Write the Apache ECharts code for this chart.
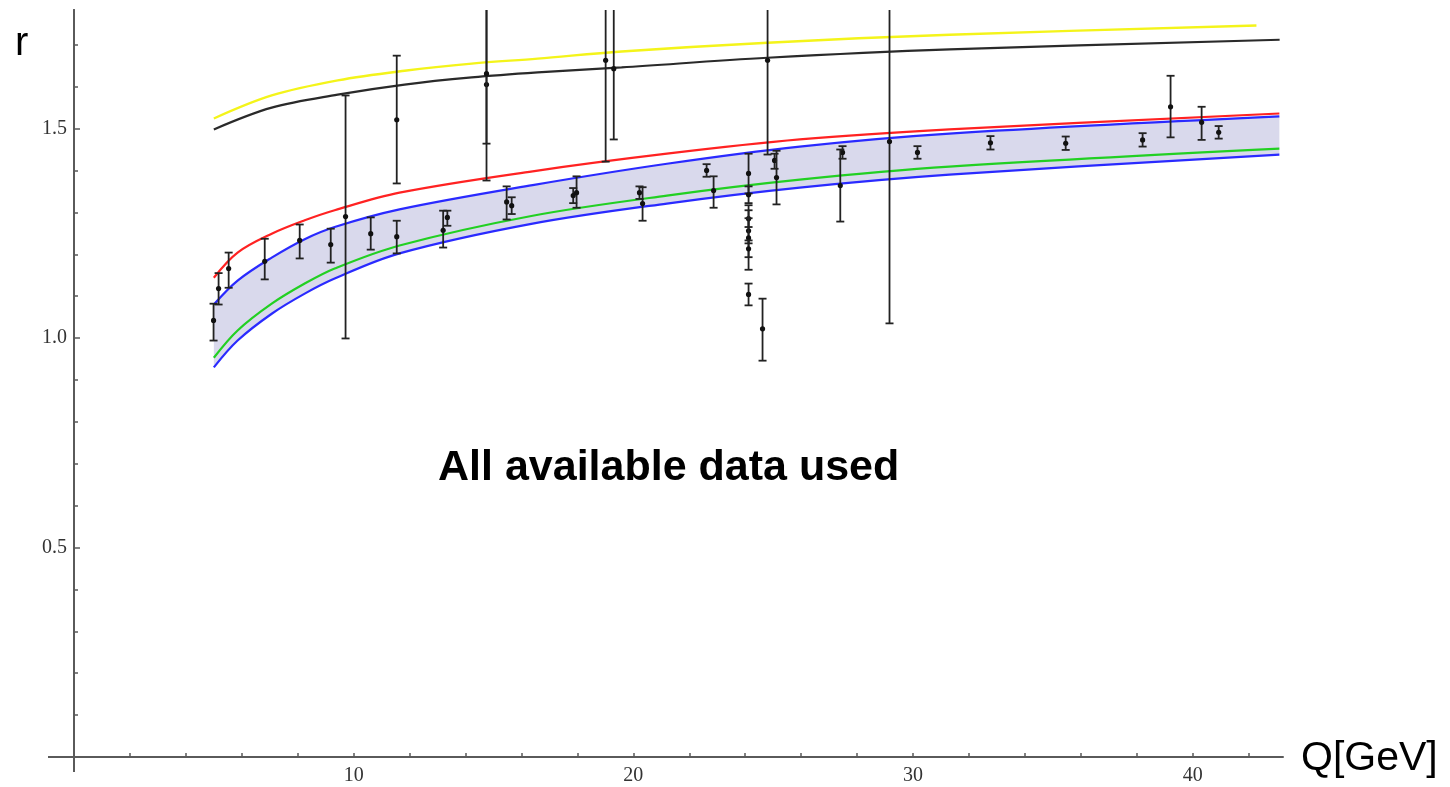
<!DOCTYPE html>
<html>
<head>
<meta charset="utf-8">
<title>r vs Q</title>
<script src="https://cdn.jsdelivr.net/npm/echarts@6.0.0/dist/echarts.min.js"></script>
<style>
    html, body { margin: 0; padding: 0; background: #fff; }
    #main { width: 1450px; height: 787px; }
</style>
</head>
<body>
<div id="main"></div>
<script>
// ticks
var xTicks = [2, 4, 6, 8, 10, 12, 14, 16, 18, 20, 22, 24, 26, 28, 30, 32, 34, 36, 38, 40, 42];
var xLabels = [10, 20, 30, 40];
var yMinorTicks = [0.1, 0.2, 0.3, 0.4, 0.6, 0.7, 0.8, 0.9, 1.1, 1.2, 1.3, 1.4, 1.6, 1.7];
var yLabels = [0.5, 1.0, 1.5];

// band curves (red, blue upper, green, blue lower)
var bandQ = [5.0, 5.85, 7.07, 8.25, 9.32, 11.64, 16.4, 21.2, 25.95, 31.3, 43.1];
var redCurve = [1.144, 1.204, 1.249, 1.281, 1.305, 1.347, 1.398, 1.440, 1.474, 1.498, 1.536];
var blueHigh = [1.080, 1.137, 1.192, 1.236, 1.265, 1.307, 1.365, 1.416, 1.457, 1.488, 1.529];
var greenCurve = [0.953, 1.018, 1.082, 1.130, 1.166, 1.221, 1.292, 1.340, 1.378, 1.409, 1.452];
var blueLow = [0.930, 0.994, 1.058, 1.106, 1.142, 1.202, 1.273, 1.321, 1.359, 1.390, 1.438];

// upper curves
var blackQ = [5.0, 7.07, 9.43, 11.82, 14.22, 16.58, 19.58, 24.8, 31.31, 43.11];
var blackCurve = [1.498, 1.550, 1.581, 1.605, 1.622, 1.634, 1.646, 1.669, 1.689, 1.712];
var yellowQ = [5.0, 7.07, 9.43, 11.82, 14.22, 16.58, 19.58, 24.8, 31.31, 42.28];
var yellowCurve = [1.524, 1.579, 1.615, 1.638, 1.655, 1.667, 1.684, 1.705, 1.724, 1.746];

// data points: Q, r, lower end, upper end of error bar
var ptQ = [4.99, 5.17, 5.53, 6.82, 8.07, 9.18, 9.71, 10.61, 11.54, 11.54,
    13.2, 13.35, 14.75, 14.75, 15.47, 15.65, 17.97, 17.85, 19.01, 19.30,
    20.22, 20.33, 22.62, 22.87, 24.12, 24.12, 24.12, 24.12, 24.12, 24.12,
    24.12, 24.62, 24.80, 25.05, 25.12, 27.48, 27.40, 29.16, 30.16, 32.77,
    35.46, 38.21, 39.21, 40.32, 40.93];
var ptR = [1.042, 1.118, 1.166, 1.183, 1.233, 1.223, 1.290, 1.249, 1.521, 1.242,
    1.257, 1.288, 1.605, 1.631, 1.325, 1.316, 1.347, 1.340, 1.663, 1.643,
    1.347, 1.321, 1.400, 1.352, 1.393, 1.342, 1.285, 1.256, 1.239, 1.213,
    1.104, 1.022, 1.663, 1.424, 1.383, 1.443, 1.364, 1.469, 1.443, 1.466,
    1.465, 1.473, 1.552, 1.515, 1.491];
var ptLo = [0.994, 1.080, 1.120, 1.140, 1.190, 1.180, 0.999, 1.211, 1.369, 1.202,
    1.216, 1.268, 1.376, 1.464, 1.283, 1.296, 1.311, 1.322, 1.421, 1.474,
    1.332, 1.280, 1.385, 1.311, 1.345, 1.322, 1.265, 1.226, 1.163, 1.193,
    1.078, 0.946, 1.438, 1.404, 1.319, 1.428, 1.278, 1.035, 1.428, 1.450,
    1.449, 1.457, 1.479, 1.473, 1.476];
var ptHi = [1.082, 1.155, 1.204, 1.237, 1.271, 1.261, 1.579, 1.288, 1.674, 1.280,
    1.304, 1.304, 1.834, 1.798, 1.362, 1.336, 1.386, 1.358, 1.905, 1.812,
    1.362, 1.360, 1.415, 1.386, 1.440, 1.362, 1.305, 1.286, 1.317, 1.233,
    1.130, 1.094, 1.888, 1.440, 1.447, 1.458, 1.450, 1.903, 1.458, 1.482,
    1.481, 1.489, 1.626, 1.552, 1.506];

var SMOOTH = 0.35;

function zip(xs, ys) {
    var out = [];
    for (var i = 0; i < xs.length; i++) out.push([xs[i], ys[i]]);
    return out;
}

// value first, Q second: the stack then runs on r, not on Q
var bandBase = [];
var bandWidth = [];
for (var i = 0; i < bandQ.length; i++) {
    bandBase.push([blueLow[i], bandQ[i]]);
    bandWidth.push([+(blueHigh[i] - blueLow[i]).toFixed(3), bandQ[i]]);
}

var points = [];
for (var j = 0; j < ptQ.length; j++) {
    points.push([ptQ[j], ptR[j], ptLo[j], ptHi[j]]);
}

function renderErrorBar(params, api) {
    var q = api.value(0);
    var mid = api.coord([q, api.value(1)]);
    var lo = api.coord([q, api.value(2)]);
    var hi = api.coord([q, api.value(3)]);
    var cap = 4;
    var st = { stroke: '#222', lineWidth: 1.8 };
    return {
        type: 'group',
        children: [
            { type: 'line', shape: { x1: lo[0], y1: lo[1], x2: hi[0], y2: hi[1] }, style: st },
            { type: 'line', shape: { x1: lo[0] - cap, y1: lo[1], x2: lo[0] + cap, y2: lo[1] }, style: st },
            { type: 'line', shape: { x1: hi[0] - cap, y1: hi[1], x2: hi[0] + cap, y2: hi[1] }, style: st },
            { type: 'circle', shape: { cx: mid[0], cy: mid[1], r: 2.6 }, style: { fill: '#111' } }
        ]
    };
}

function curve(name, xs, ys, color, width) {
    return {
        name: name, type: 'line', smooth: SMOOTH, symbol: 'none', z: 3,
        data: zip(xs, ys),
        lineStyle: { color: color, width: width }
    };
}

var axisGray = '#5a5a5a';
var tickFont = { fontFamily: 'Liberation Serif', fontSize: 20, color: '#333' };
var gridLeft = 74, gridTop = 10, gridRight = 1283, gridBottom = 757;

var chart = echarts.init(document.getElementById('main'));
chart.setOption({
    animation: false,
    backgroundColor: '#fff',
    grid: { left: gridLeft, right: 1450 - gridRight, top: gridTop, bottom: 787 - gridBottom, containLabel: false, outerBoundsMode: 'none' },
    xAxis: {
        type: 'value',
        min: 0,
        max: 43.23,
        splitLine: { show: false },
        axisLine: { onZero: false, lineStyle: { color: axisGray, width: 2 } },
        axisTick: { inside: true, length: 4, customValues: xTicks, lineStyle: { color: axisGray, width: 1.5 } },
        axisLabel: Object.assign({ customValues: xLabels, margin: 9 }, tickFont)
    },
    yAxis: [{
        type: 'value',
        min: 0,
        max: 1.783,
        splitLine: { show: false },
        axisLine: { onZero: false, lineStyle: { color: axisGray, width: 2 } },
        axisTick: { inside: true, length: 4, customValues: yMinorTicks, lineStyle: { color: axisGray, width: 1.5 } },
        axisLabel: { show: false }
    }, {
        type: 'value',
        min: 0,
        max: 1.783,
        position: 'left',
        offset: 0,
        splitLine: { show: false },
        axisLine: { onZero: false, lineStyle: { color: axisGray, width: 2 } },
        axisTick: { inside: true, length: 6, customValues: yLabels, lineStyle: { color: axisGray, width: 1.5 } },
        axisLabel: Object.assign({
            customValues: yLabels,
            margin: 7,
            formatter: function (v) { return v.toFixed(1); }
        }, tickFont)
    }],
    series: [
        // shaded band between the two blue curves
        {
            name: 'bandBase', type: 'line', stack: 'band', smooth: SMOOTH,
            symbol: 'none', z: 1,
            encode: { x: 1, y: 0 },
            data: bandBase,
            lineStyle: { width: 0, opacity: 0 }
        },
        {
            name: 'bandFill', type: 'line', stack: 'band', smooth: SMOOTH,
            symbol: 'none', z: 1,
            encode: { x: 1, y: 0 },
            data: bandWidth,
            lineStyle: { width: 0, opacity: 0 },
            areaStyle: { color: '#d9d9ec', opacity: 1 }
        },
        curve('blueLow', bandQ, blueLow, '#2a2aff', 2.2),
        curve('green', bandQ, greenCurve, '#22d022', 2.2),
        curve('blueHigh', bandQ, blueHigh, '#2a2aff', 2.2),
        curve('red', bandQ, redCurve, '#ff2222', 2.2),
        curve('black', blackQ, blackCurve, '#2a2a2a', 2.2),
        curve('yellow', yellowQ, yellowCurve, '#f4f41a', 2.4),
        {
            name: 'data', type: 'custom', z: 5, clip: true,
            renderItem: renderErrorBar,
            encode: { x: 0, y: [1, 2, 3] },
            data: points
        }
    ],
    graphic: [
        // axis stubs past the origin
        {
            type: 'line', z: 10,
            shape: { x1: 48, y1: gridBottom, x2: gridLeft, y2: gridBottom },
            style: { stroke: axisGray, lineWidth: 2 }
        },
        {
            type: 'line', z: 10,
            shape: { x1: gridLeft, y1: gridBottom, x2: gridLeft, y2: 772 },
            style: { stroke: axisGray, lineWidth: 2 }
        },
        {
            type: 'text', left: 15, top: 24,
            style: { text: 'r', fontFamily: 'Liberation Sans', fontSize: 40, fill: '#000' }
        },
        {
            type: 'text', left: 1301, top: 738,
            style: { text: 'Q[GeV]', fontFamily: 'Liberation Sans', fontSize: 41, fill: '#000' }
        },
        {
            type: 'text', left: 438, top: 447,
            style: { text: 'All available data used', fontFamily: 'Liberation Sans', fontSize: 43, fontWeight: 'bold', fill: '#000' }
        }
    ]
});
</script>
</body>
</html>
